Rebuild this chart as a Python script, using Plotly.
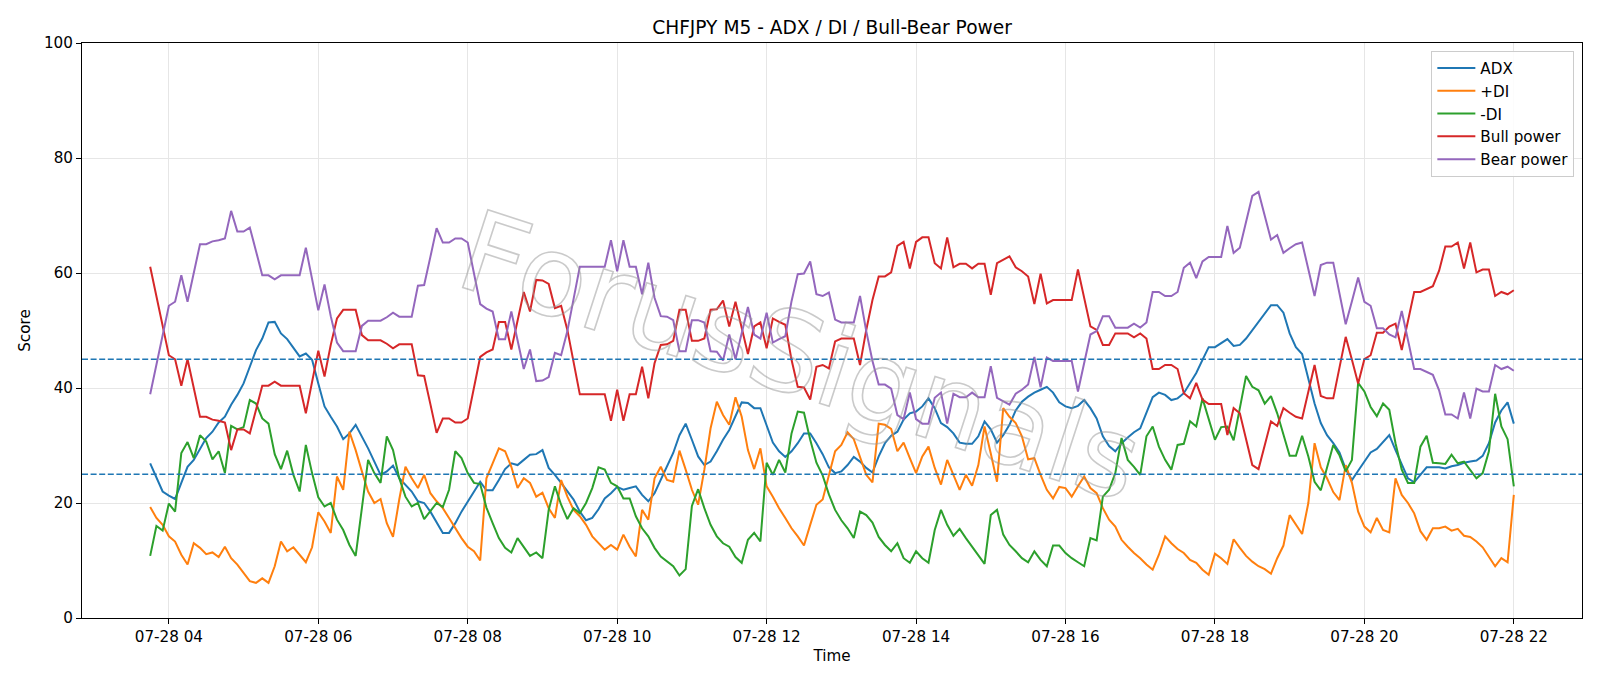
import pandas as pd
import plotly.graph_objects as go

# ---------------- data (5-minute bars, 2025-07-28 03:45 .. 22:00) ----------------
start_time = "2025-07-28 03:45"
bar_minutes = 5

adx = [26.9, 24.3, 22.0, 21.3, 20.7, 23.5, 26.3, 27.5, 29.5, 31.3,
       32.4, 34.0, 35.0, 37.1, 38.8, 40.8, 43.7, 46.6, 48.6, 51.4,
       51.5, 49.5, 48.5, 46.9, 45.5, 46.0, 44.9, 40.8,
       36.8, 35.0, 33.3, 31.1, 32.1, 33.6, 31.6, 29.5, 27.2, 24.9,
       25.5, 26.5, 24.3, 23.2, 22.0, 20.3, 20.0, 18.5, 16.6, 14.8,
       14.8, 16.5, 18.5, 20.3, 22.0, 23.7, 22.2,
       22.2, 24.0, 25.9, 26.9, 26.6, 27.5, 28.4, 28.5, 29.2, 26.1,
       24.9, 23.5, 22.0, 20.6, 18.5, 17.0, 17.4, 18.9, 20.8, 21.7,
       22.8, 22.3, 22.6, 22.9, 21.4, 20.3, 21.7, 24.0,
       26.1, 28.7, 31.8, 33.8, 31.0, 28.1, 26.6, 27.2, 29.0, 31.0,
       32.7, 35.0, 37.5, 37.4, 36.5, 36.5, 33.3, 30.5, 29.0, 28.0,
       29.0, 30.4, 32.1, 32.1, 30.4, 28.5, 26.2,
       25.2, 25.5, 26.6, 28.0, 27.2, 26.1, 25.3, 28.1, 30.4, 31.7,
       32.4, 34.5, 35.6, 35.9, 36.8, 38.2, 36.5, 33.9, 33.2, 32.1,
       30.5, 30.3, 30.3, 31.6, 34.2, 32.8, 30.5,
       31.8, 33.6, 36.1, 37.6, 38.5, 39.2, 39.7, 40.2, 39.2, 37.5,
       36.8, 36.5, 36.9, 37.9, 36.5, 34.7, 31.6, 29.9, 29.0, 30.4,
       31.4, 32.3, 33.0, 35.6, 38.4, 39.2, 38.8,
       37.9, 38.2, 39.1, 40.8, 42.6, 44.9, 47.1, 47.1, 47.8, 48.5,
       47.3, 47.5, 48.6, 50.1, 51.5, 53.0, 54.4, 54.4, 53.1, 49.5,
       47.1, 45.9, 41.4, 37.3, 33.9, 31.8, 30.4, 28.8,
       25.9, 24.0, 25.6, 27.2, 28.8, 29.4, 30.6, 31.8, 29.2, 26.6,
       24.3, 23.6, 24.9, 26.2, 26.2, 26.2, 26.0, 26.4, 26.6, 27.0,
       27.2, 27.4, 28.2, 30.4, 34.0, 36.1, 37.5, 33.8]

plus_di = [19.3, 17.4, 16.2, 14.2, 13.3, 11.0, 9.3, 13.0, 12.2, 11.1,
           11.4, 10.6, 12.4, 10.4, 9.3, 7.8, 6.4, 6.1, 6.9, 6.1,
           9.0, 13.3, 11.6, 12.3, 11.0, 9.7, 12.3, 18.4,
           16.8, 14.8, 24.6, 22.3, 32.4, 29.2, 25.5, 22.0, 20.0, 20.7,
           16.5, 14.1, 20.6, 26.3, 24.3, 22.6, 24.9, 21.7, 20.3, 19.1,
           17.4, 15.6, 13.9, 12.4, 11.6, 10.0, 24.3,
           26.9, 29.5, 29.0, 26.3, 22.6, 24.3, 23.5, 21.1, 21.8, 19.1,
           17.4, 24.0, 21.1, 18.8, 17.7, 16.2, 14.2, 13.0, 11.9, 12.7,
           11.9, 14.5, 12.4, 10.7, 18.8, 17.1, 24.3, 26.3,
           24.0, 23.7, 29.1, 25.8, 22.3, 19.7, 25.8, 33.0, 37.6, 35.3,
           33.6, 38.4, 35.0, 29.2, 25.9, 29.5, 22.9, 21.1, 19.1, 17.4,
           15.6, 14.2, 12.6, 16.2, 19.7, 20.6, 25.0,
           29.0, 30.1, 32.3, 31.1, 28.1, 24.9, 23.6, 33.8, 33.6, 32.9,
           29.0, 30.5, 27.8, 25.2, 28.1, 29.8, 26.1, 23.2, 27.5, 24.9,
           22.3, 24.9, 23.0, 26.6, 33.3, 28.6, 23.7,
           36.5, 35.0, 33.9, 31.6, 27.6, 27.8, 24.9, 22.3, 20.8, 22.8,
           22.6, 21.1, 22.9, 24.6, 22.6, 21.7, 19.1, 17.1, 15.9, 13.6,
           12.4, 11.3, 10.4, 9.3, 8.4, 11.0, 14.2,
           13.0, 12.0, 11.3, 10.1, 9.6, 8.4, 7.5, 11.2, 10.4, 9.4,
           13.7, 12.2, 10.8, 9.8, 9.0, 8.5, 7.7, 10.4, 12.6, 17.9,
           16.2, 14.6, 20.0, 30.4, 26.2, 24.3, 21.9, 20.5,
           26.6, 23.5, 18.5, 15.9, 14.9, 17.4, 15.3, 14.9, 24.3, 21.4,
           20.0, 18.2, 15.1, 13.6, 15.6, 15.6, 15.9, 15.2, 15.5, 14.3,
           14.1, 13.3, 12.3, 10.7, 9.0, 10.4, 9.7, 21.4]

minus_di = [10.8, 16.0, 15.2, 19.9, 18.5, 28.7, 30.6, 27.8, 31.8, 30.7,
            27.6, 29.0, 25.2, 33.4, 32.8, 33.2, 37.9, 37.3, 34.7, 33.8,
            28.5, 25.9, 29.1, 24.9, 22.0, 30.1, 25.2, 21.0,
            19.4, 20.0, 17.1, 15.3, 12.7, 10.8, 19.1, 27.5, 25.2, 23.5,
            31.6, 29.2, 24.3, 21.1, 19.4, 20.0, 17.2, 18.5, 20.0, 19.3,
            22.3, 29.0, 27.8, 25.2, 23.5, 23.3, 19.2,
            16.5, 13.9, 12.2, 11.4, 13.9, 12.4, 10.8, 11.4, 10.4, 18.8,
            22.9, 19.7, 17.2, 19.1, 18.2, 20.0, 22.6, 26.2, 25.8, 23.5,
            22.9, 20.8, 20.8, 17.7, 15.6, 14.2, 12.2, 10.7,
            9.8, 9.0, 7.4, 8.5, 19.5, 22.4, 19.1, 16.2, 14.2, 13.0,
            12.4, 10.6, 9.6, 13.6, 14.8, 13.3, 27.0, 24.9, 27.5, 25.3,
            32.1, 35.9, 35.7, 31.0, 27.0, 24.8, 21.5,
            18.8, 17.0, 15.6, 13.9, 18.5, 17.9, 16.6, 14.1, 12.7, 11.6,
            13.0, 10.4, 9.6, 11.6, 10.4, 9.6, 15.3, 18.8, 16.2, 14.3,
            15.5, 13.9, 12.4, 11.0, 9.4, 17.9, 18.8,
            14.5, 12.7, 11.6, 10.4, 9.7, 11.6, 10.1, 9.0, 12.6, 12.6,
            11.3, 10.4, 9.7, 9.0, 13.9, 13.5, 21.1, 22.3, 25.2, 31.3,
            27.5, 26.3, 24.9, 31.6, 33.3, 29.8, 27.5,
            25.8, 30.1, 30.3, 34.2, 33.3, 38.2, 34.5, 31.0, 33.2, 33.3,
            30.9, 36.2, 42.1, 40.2, 39.6, 37.3, 38.6, 35.6, 32.1, 28.2,
            28.2, 31.7, 28.1, 23.7, 22.2, 26.3, 30.1, 28.3,
            25.5, 27.5, 40.9, 39.4, 36.7, 35.1, 37.3, 36.2, 30.4, 25.8,
            23.5, 23.5, 29.8, 31.7, 27.0, 26.9, 26.8, 28.4, 26.9, 27.2,
            25.8, 24.3, 25.2, 29.0, 39.0, 33.3, 31.1, 22.9]

bull_power = [61.1, 56.0, 50.5, 45.7, 45.0, 40.4, 45.0, 40.0, 35.0, 35.0,
              34.5, 34.3, 34.0, 29.2, 32.8, 32.8, 32.1, 36.2, 40.4, 40.4,
              41.1, 40.4, 40.4, 40.4, 40.4, 35.6, 41.1, 46.5,
              42.0, 47.5, 52.1, 53.6, 53.6, 53.6, 49.2, 48.3, 48.3, 48.3,
              47.7, 46.9, 47.6, 47.6, 47.6, 42.2, 42.1, 37.2, 32.2, 34.7,
              34.7, 34.0, 34.0, 34.7, 40.0, 45.4, 46.2,
              46.7, 51.5, 51.5, 46.7, 51.8, 56.7, 53.3, 58.8, 58.7, 58.1,
              53.9, 54.3, 50.1, 44.3, 38.9, 38.9, 38.9, 38.9, 38.9, 34.3,
              39.7, 34.3, 38.9, 38.9, 43.7, 38.2, 44.3, 47.5,
              47.6, 48.2, 53.6, 53.6, 48.2, 48.2, 48.6, 53.6, 53.7, 55.2,
              50.7, 55.0, 50.4, 45.9, 50.7, 51.4, 46.9, 52.1, 51.5, 51.0,
              44.9, 40.2, 40.1, 38.0, 43.7, 44.0, 43.4,
              48.1, 48.6, 48.6, 48.6, 44.0, 50.1, 55.3, 59.4, 59.4, 60.1,
              64.7, 65.4, 60.8, 65.4, 66.2, 66.2, 61.7, 60.8, 66.2, 61.0,
              61.6, 61.6, 60.8, 61.6, 61.6, 56.2, 61.7,
              62.3, 62.9, 61.0, 60.3, 59.4, 54.6, 59.9, 54.7, 55.3, 55.3,
              55.3, 55.3, 60.6, 55.6, 50.7, 50.1, 47.5, 47.5, 49.5, 49.5,
              49.5, 48.8, 49.5, 48.6, 43.3, 43.3, 44.0,
              44.0, 43.3, 39.1, 38.2, 40.9, 38.0, 37.2, 37.2, 37.2, 31.8,
              36.5, 35.6, 31.0, 26.6, 25.9, 30.1, 34.2, 33.4, 36.5, 35.7,
              35.0, 34.7, 39.4, 44.0, 38.6, 38.2, 38.2, 43.8,
              48.9, 44.9, 40.8, 45.0, 45.7, 49.6, 49.6, 50.7, 51.2, 46.6,
              51.5, 56.7, 56.7, 57.2, 57.7, 60.4, 64.6, 64.6, 65.3, 60.8,
              65.3, 60.1, 60.6, 60.6, 56.0, 56.7, 56.3, 57.0]

bear_power = [38.9, 44.0, 49.5, 54.3, 55.0, 59.6, 55.0, 60.0, 65.0, 65.0,
              65.5, 65.7, 66.0, 70.8, 67.2, 67.2, 67.9, 63.8, 59.6, 59.6,
              58.9, 59.6, 59.6, 59.6, 59.6, 64.4, 58.9, 53.5,
              58.0, 52.5, 47.9, 46.4, 46.4, 46.4, 50.8, 51.7, 51.7, 51.7,
              52.3, 53.1, 52.4, 52.4, 52.4, 57.8, 57.9, 62.8, 67.8, 65.3,
              65.3, 66.0, 66.0, 65.3, 60.0, 54.6, 53.8,
              53.3, 48.5, 48.5, 53.3, 48.2, 43.3, 46.7, 41.2, 41.3, 41.9,
              46.1, 45.7, 49.9, 55.7, 61.1, 61.1, 61.1, 61.1, 61.1, 65.7,
              60.3, 65.7, 61.1, 61.1, 56.3, 61.8, 55.7, 52.5,
              52.4, 51.8, 46.4, 46.4, 51.8, 51.8, 51.4, 46.4, 46.3, 44.8,
              49.3, 45.0, 49.6, 54.1, 49.3, 48.6, 53.1, 47.9, 48.5, 49.0,
              55.1, 59.8, 59.9, 62.0, 56.3, 56.0, 56.6,
              51.9, 51.4, 51.4, 51.4, 56.0, 49.9, 44.7, 40.6, 40.6, 39.9,
              35.3, 34.6, 39.2, 34.6, 33.8, 33.8, 38.3, 39.2, 33.8, 39.0,
              38.4, 38.4, 39.2, 38.4, 38.4, 43.8, 38.3,
              37.7, 37.1, 39.0, 39.7, 40.6, 45.4, 40.1, 45.3, 44.7, 44.7,
              44.7, 44.7, 39.4, 44.4, 49.3, 49.9, 52.5, 52.5, 50.5, 50.5,
              50.5, 51.2, 50.5, 51.4, 56.7, 56.7, 56.0,
              56.0, 56.7, 60.9, 61.8, 59.1, 62.0, 62.8, 62.8, 62.8, 68.2,
              63.5, 64.4, 69.0, 73.4, 74.1, 69.9, 65.8, 66.6, 63.5, 64.3,
              65.0, 65.3, 60.6, 56.0, 61.4, 61.8, 61.8, 56.2,
              51.1, 55.1, 59.2, 55.0, 54.3, 50.4, 50.4, 49.3, 48.8, 53.4,
              48.5, 43.3, 43.3, 42.8, 42.3, 39.6, 35.4, 35.4, 34.7, 39.2,
              34.7, 39.9, 39.4, 39.4, 44.0, 43.3, 43.7, 43.0]

reference_levels = [25, 45]
y_ticks = [0, 20, 40, 60, 80, 100]
series_names = ["ADX", "+DI", "-DI", "Bull power", "Bear power"]
series_colors = ["#1f77b4", "#ff7f0e", "#2ca02c", "#d62728", "#9467bd"]
title_text = "CHFJPY M5 - ADX / DI / Bull-Bear Power"
watermark_text = "ForusSignals"

# ---------------- figure ----------------
n = len(adx)
times = pd.date_range(start_time, periods=n, freq=f"{bar_minutes}min")
pad = pd.Timedelta(minutes=bar_minutes * (n - 1) * 0.05)
x_range = [times[0] - pad, times[-1] + pad]

FONT = "DejaVu Sans"
TICK_SIZE = 15.2
fig = go.Figure()
for name, vals, col in zip(series_names,
                           [adx, plus_di, minus_di, bull_power, bear_power],
                           series_colors):
    fig.add_trace(go.Scatter(x=times[:len(vals)], y=vals, mode="lines", name=name,
                             legendgroup=name,
                             line=dict(color=col, width=2)))

for lvl in reference_levels:
    fig.add_shape(type="line", xref="paper", x0=0, x1=1, yref="y", y0=lvl, y1=lvl,
                  line=dict(color="#1f77b4", width=1.4, dash="6px,2.6px"), layer="above")

fig.add_annotation(text=watermark_text, xref="paper", yref="paper", x=0.4787, y=0.455,
                   xanchor="center", yanchor="middle", showarrow=False, textangle=18,
                   font=dict(family=FONT, size=112, color="rgba(160,160,160,0.3)"))

fig.update_layout(
    width=1600, height=686,
    margin=dict(l=82, r=18, t=43, b=68),
    paper_bgcolor="white", plot_bgcolor="white",
    font=dict(family=FONT, size=TICK_SIZE, color="black"),
    title=dict(text=title_text, x=0.5, xref="paper", xanchor="center",
               y=1 - 27 / 686, yref="container", yanchor="middle",
               font=dict(size=18.6, family=FONT, color="black")),
    legend=dict(x=0.9949, y=0.9866, xanchor="right", yanchor="top",
                bgcolor="rgba(255,255,255,0.85)", bordercolor="#cccccc", borderwidth=1,
                font=dict(size=TICK_SIZE, family=FONT), tracegroupgap=0,
                itemwidth=38),
    showlegend=True,
)
fig.update_xaxes(type="date", range=x_range, tickformat="%m-%d %H",
                 dtick=2 * 3600 * 1000, tick0="2025-07-28 00:00",
                 showgrid=True, gridcolor="#e6e6e6", gridwidth=1,
                 showline=True, linecolor="black", linewidth=1, mirror=True,
                 ticks="outside", ticklen=5, tickcolor="black", zeroline=False,
                 title=dict(text="Time", standoff=5, font=dict(size=TICK_SIZE)),
                 tickfont=dict(size=TICK_SIZE))
fig.update_yaxes(range=[0, 100], tickvals=y_ticks,
                 showgrid=True, gridcolor="#e6e6e6", gridwidth=1,
                 showline=True, linecolor="black", linewidth=1, mirror=True,
                 ticks="outside", ticklen=5, tickcolor="black", zeroline=False,
                 title=dict(text="Score", standoff=9, font=dict(size=TICK_SIZE)),
                 tickfont=dict(size=TICK_SIZE))

post_js = """
var gd = document.getElementById('{plot_id}');
function outlineWM(){
  var els = gd.querySelectorAll('.annotation-text');
  els.forEach(function(t){
    if (t.textContent.indexOf('Signals') >= 0) {
      t.style.fill = 'none';
      t.style.stroke = 'rgba(150,150,150,0.5)';
      t.style.strokeWidth = '1.6px';
    }
  });
}
outlineWM();
if (gd && gd.on) { gd.on('plotly_afterplot', outlineWM); }
"""
fig.write_html("out.html", post_script=post_js)
